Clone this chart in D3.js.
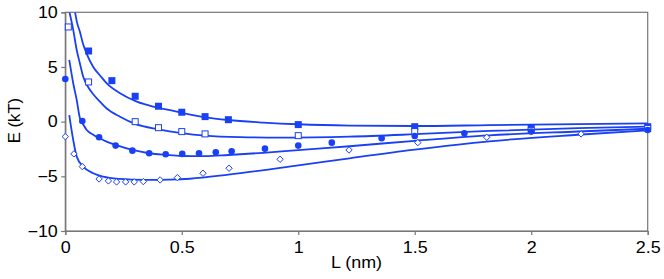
<!DOCTYPE html>
<html><head><meta charset="utf-8">
<script src="https://cdn.jsdelivr.net/npm/d3@7"></script>
<style>body{margin:0;background:#fff}svg{display:block}text{font-family:"Liberation Sans",Arial,Helvetica,sans-serif}</style>
</head><body><svg id="c" width="664" height="279"></svg>
<script>
// ---- data ----
const xTicks = [0, 0.5, 1, 1.5, 2, 2.5];
const yTicks = [-10, -5, 0, 5, 10];
const xLabel = "L (nm)";
const yLabel = "E (kT)";

const filledSquares = [[0.1,6.46],[0.2,3.75],[0.3,2.32],[0.4,1.41],[0.5,0.86],[0.6,0.46],[0.7,0.18],[1.0,-0.27],[1.5,-0.46],[2.0,-0.55],[2.5,-0.46]];
const openSquares = [[0.013,8.66],[0.1,3.63],[0.3,0.0],[0.4,-0.55],[0.5,-0.91],[0.6,-1.12],[1.0,-1.28],[1.5,-0.91],[2.0,-0.8],[2.5,-0.62]];
const filledCircles = [[0.0,3.9],[0.073,0.06],[0.145,-1.43],[0.216,-2.19],[0.288,-2.65],[0.36,-2.89],[0.431,-2.98],[0.502,-2.95],[0.574,-2.89],[0.646,-2.8],[0.714,-2.71],[0.857,-2.47],[1.0,-2.19],[1.144,-1.92],[1.358,-1.52],[1.5,-1.31],[1.713,-1.06],[2.0,-0.91],[2.5,-0.76]];
const openDiamonds = [[0.0,-1.37],[0.037,-2.95],[0.073,-4.11],[0.145,-5.24],[0.185,-5.42],[0.22,-5.51],[0.259,-5.51],[0.296,-5.51],[0.335,-5.48],[0.407,-5.33],[0.481,-5.12],[0.591,-4.72],[0.703,-4.26],[0.922,-3.44],[1.218,-2.59],[1.513,-1.92],[1.809,-1.43],[2.214,-1.12]];

const curve1 = [[0.042,10],[0.05,9.1],[0.063,8.2],[0.075,7.2],[0.092,6.2],[0.12,5.0],[0.15,4.2],[0.178,3.5],[0.235,2.6],[0.307,1.83],[0.378,1.37],[0.45,1.05],[0.5,0.8],[0.6,0.4],[0.7,0.15],[0.85,-0.08],[1.0,-0.24],[1.22,-0.36],[1.5,-0.4],[1.82,-0.32],[2.2,-0.22],[2.5,-0.15]];
const curve2 = [[0.018,10],[0.034,8.4],[0.049,6.55],[0.063,5.3],[0.077,4.1],[0.1,3.1],[0.12,2.5],[0.15,1.8],[0.178,1.2],[0.235,0.45],[0.3,-0.2],[0.4,-0.7],[0.5,-1.05],[0.6,-1.28],[0.75,-1.42],[0.92,-1.46],[1.22,-1.37],[1.5,-1.15],[1.82,-0.85],[2.2,-0.6],[2.5,-0.45]];
const curve3 = [[0.017,5.64],[0.034,3.51],[0.049,1.98],[0.063,0.3],[0.073,-0.1],[0.092,-0.76],[0.12,-1.2],[0.145,-1.5],[0.18,-1.85],[0.216,-2.13],[0.288,-2.59],[0.36,-2.89],[0.431,-3.04],[0.5,-3.14],[0.6,-3.15],[0.7,-3.05],[0.85,-2.85],[1.0,-2.6],[1.22,-2.25],[1.5,-1.75],[1.82,-1.25],[2.2,-0.9],[2.5,-0.65]];
const curve4 = [[0.017,0.6],[0.034,-1.67],[0.049,-3.2],[0.077,-4.11],[0.12,-4.72],[0.163,-5.03],[0.235,-5.24],[0.335,-5.33],[0.45,-5.3],[0.535,-5.22],[0.7,-4.85],[1.0,-4.0],[1.22,-3.35],[1.5,-2.56],[1.82,-1.8],[2.2,-1.2],[2.5,-0.8]];

// ---- layout ----
const svg = d3.select("#c");
const L = 65.3, R = 647.7, T = 12.3, B = 231;
const blue = "#1a40f5";
const axisCol = "#777";
const fs = "16px", sx = 1.12;
const x = d3.scaleLinear().domain([0, 2.5]).range([L, R]);
const y = d3.scaleLinear().domain([-10, 10]).range([B, T]);

svg.append("defs").append("clipPath").attr("id","clip")
  .append("rect").attr("x",L).attr("y",T).attr("width",R-L).attr("height",B-T);

// frame
svg.append("rect").attr("x",L).attr("y",T).attr("width",R-L).attr("height",B-T)
  .attr("fill","none").attr("stroke",axisCol).attr("stroke-width",1.2);

const xa = svg.append("g").attr("transform",`translate(0,${B})`)
  .call(d3.axisBottom(x).tickValues(xTicks).tickSize(4).tickPadding(7).tickFormat(d3.format("")));
const ya = svg.append("g").attr("transform",`translate(${L},0)`)
  .call(d3.axisLeft(y).tickValues(yTicks).tickSize(4).tickPadding(3).tickFormat(d => d < 0 ? "\u2212" + Math.abs(d) : String(d)));
[xa, ya].forEach(a => {
  a.select(".domain").attr("stroke",axisCol).attr("stroke-width",1.2);
  a.selectAll(".tick line").attr("stroke",axisCol).attr("stroke-width",1.2);
  a.selectAll(".tick text").attr("fill","#000").style("font-size",fs).attr("transform",`scale(${sx},1)`);
});
ya.selectAll(".tick text").attr("x", -7.5 / sx);

svg.append("text").attr("transform",`translate(${(L+R)/2},268) scale(${sx},1)`).attr("text-anchor","middle")
  .style("font-size",fs).text(xLabel);
svg.append("text").attr("transform",`translate(19.5,120.5) rotate(-90) scale(1.04,1)`).attr("text-anchor","middle")
  .style("font-size",fs).text(yLabel);

// curves
const line = d3.line().x(d => x(d[0])).y(d => y(d[1])).curve(d3.curveMonotoneX);
const cg = svg.append("g").attr("clip-path","url(#clip)");
[curve1, curve2, curve3, curve4].forEach(c => {
  cg.append("path").attr("d", line(c)).attr("fill","none").attr("stroke",blue).attr("stroke-width",1.8);
});

// markers
const mg = svg.append("g");
mg.selectAll(".fs").data(filledSquares).join("rect")
  .attr("x", d => x(d[0]) - 3.5).attr("y", d => y(d[1]) - 3.5).attr("width",7).attr("height",7).attr("fill",blue);
mg.selectAll(".os").data(openSquares).join("rect")
  .attr("x", d => x(d[0]) - 3).attr("y", d => y(d[1]) - 3).attr("width",6).attr("height",6)
  .attr("fill","#fff").attr("stroke",blue).attr("stroke-width",1);
mg.selectAll(".fc").data(filledCircles).join("circle")
  .attr("cx", d => x(d[0])).attr("cy", d => y(d[1])).attr("r",3.3).attr("fill",blue);
const diamond = d3.symbol().type(d3.symbolDiamond2).size(26);
mg.selectAll(".od").data(openDiamonds).join("path")
  .attr("transform", d => `translate(${x(d[0])},${y(d[1])})`).attr("d", diamond)
  .attr("fill","#fff").attr("stroke",blue).attr("stroke-width",1);
</script></body></html>
